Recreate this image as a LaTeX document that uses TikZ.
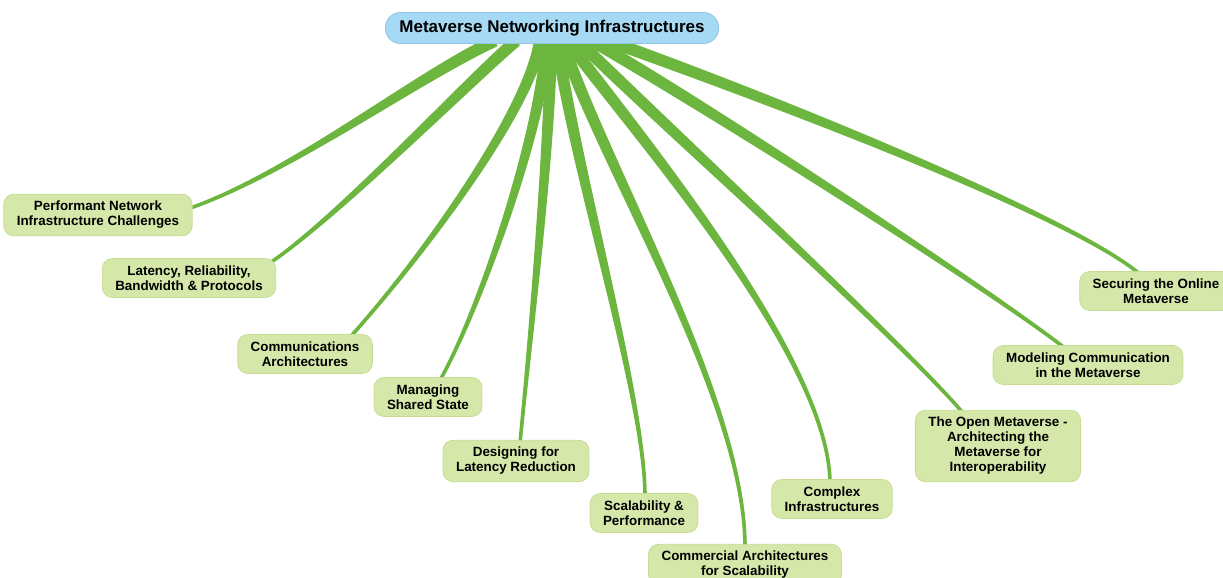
\documentclass[tikz,border=0pt]{standalone}
\usepackage{fontspec}
\setsansfont{Liberation Sans}
\usetikzlibrary{calc, backgrounds}

\definecolor{branchgreen}{RGB}{108,181,62}
\definecolor{leafgreen}{RGB}{214,231,170}
\definecolor{leafedge}{RGB}{198,221,150}
\definecolor{rootblue}{RGB}{166,217,243}
\definecolor{rootedge}{RGB}{142,200,232}

% tapered branch: start, first control, second control, tip
\newcommand{\branch}[4]{%
	\coordinate (bs) at #1; \coordinate (ba) at #2;
	\coordinate (bb) at #3; \coordinate (be) at #4;
	\path ($(bs)!6pt!90:(ba)$) coordinate (bsl) ($(bs)!6pt!-90:(ba)$) coordinate (bsr)
	      ($(be)!1.8pt!-90:(bb)$) coordinate (bel) ($(be)!1.8pt!90:(bb)$) coordinate (ber);
	\fill[branch] (bsl) .. controls ($(ba)+(bsl)-(bs)$) and ($(bb)+(bel)-(be)$) .. (bel)
		-- (ber) .. controls ($(bb)+(ber)-(be)$) and ($(ba)+(bsr)-(bs)$) .. (bsr) -- cycle;
}

\begin{document}
\begin{tikzpicture}[
		x=1pt, y=-1pt,
		font=\sffamily\bfseries,
		% central topic
		topic/.style={fill=rootblue, draw=rootedge, line width=0.8pt, rounded corners=15pt,
			inner xsep=14pt, inner ysep=7.5pt, font={\sffamily\bfseries\fontsize{17}{20}\selectfont}},
		% chapter boxes
		leaf/.style={fill=leafgreen, draw=leafedge, line width=0.8pt, rounded corners=10pt,
			align=center, inner xsep=13pt, inner ysep=7pt, font={\sffamily\bfseries\fontsize{13.4}{15}\selectfont}},
		branch/.style={fill=branchgreen}
		]
		\useasboundingbox (0,0) rectangle (1223,578);
		
		% --- Topic ---
		\node[topic] (root) at (552,28) {Metaverse Networking Infrastructures};
		
		% --- Chapters, left to right ---
		\node[leaf] (perf) at (98,215) {Performant Network\\Infrastructure Challenges};
		\node[leaf] (latency) at (189,278) {Latency, Reliability,\\Bandwidth \& Protocols};
		\node[leaf] (comms) at (305,354) {Communications\\Architectures};
		\node[leaf] (state) at (428,397) {Managing\\Shared State};
		\node[leaf] (design) at (516,461) {Designing for\\Latency Reduction};
		\node[leaf] (scale) at (644,513) {Scalability \&\\Performance};
		\node[leaf] (commercial) at (745,565) {Commercial Architectures\\for Scalability};
		\node[leaf] (complex) at (832,499) {Complex\\Infrastructures};
		\node[leaf] (open) at (998,446) {The Open Metaverse -\\Architecting the\\Metaverse for\\Interoperability};
		\node[leaf] (model) at (1088,365) {Modeling Communication\\in the Metaverse};
		\node[leaf] (secure) at (1156,291) {Securing the Online\\Metaverse};
		
		% --- Branches ---
		\begin{scope}[on background layer]
			\branch{($(root.south)+(-57,-3)$)}{(420,75)}{(292,172)}{($(perf.east)+(-2,-7)$)}
			\branch{($(root.south)+(-36,-3)$)}{(470,80)}{(335,220)}{($(latency.north east)+(-8,6)$)}
			\branch{($(root.south)+(-12,-3)$)}{(530,110)}{(420,260)}{($(comms.north)+(45,3)$)}
			\branch{($(root.south)+(-6,-3)$)}{(545,120)}{(480,310)}{($(state.north)+(12,3)$)}
			\branch{($(root.south)+(-1,-3)$)}{(550,150)}{(530,340)}{($(design.north)+(4,3)$)}
			\branch{($(root.south)+(5,-3)$)}{(575,170)}{(645,400)}{($(scale.north)+(1,3)$)}
			\branch{($(root.south)+(10,-3)$)}{(605,170)}{(745,400)}{($(commercial.north)+(0,3)$)}
			\branch{($(root.south)+(15,-3)$)}{(650,150)}{(828,360)}{($(complex.north)+(-2,3)$)}
			\branch{($(root.south)+(26,-3)$)}{(680,140)}{(900,340)}{($(open.north)+(-35,3)$)}
			\branch{($(root.south)+(40,-3)$)}{(720,115)}{(990,290)}{($(model.north)+(-23,3)$)}
			\branch{($(root.south)+(56,-3)$)}{(760,95)}{(1070,215)}{($(secure.north)+(-16,3)$)}
		\end{scope}
		
\end{tikzpicture}
\end{document}
